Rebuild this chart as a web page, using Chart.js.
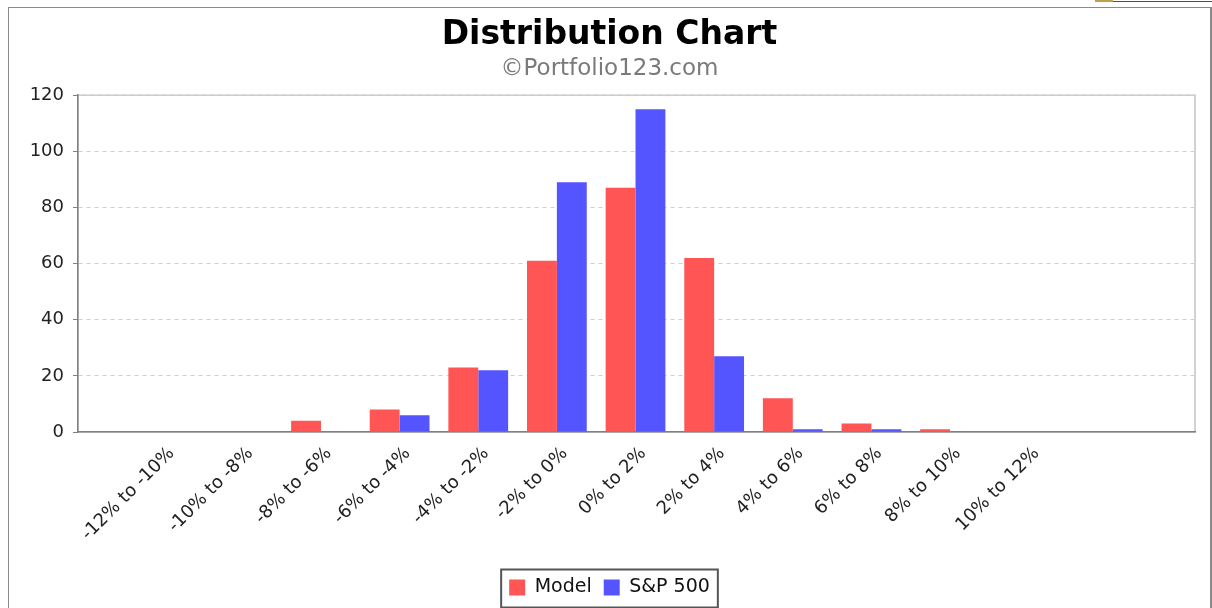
<!DOCTYPE html>
<html>
<head>
<meta charset="utf-8">
<title>Distribution Chart</title>
<script src="https://cdn.jsdelivr.net/npm/chart.js@4.4.0/dist/chart.umd.min.js"></script>
<style>
    html, body { margin: 0; padding: 0; background: #fff; }
    #wrap { position: relative; width: 1212px; height: 608px; overflow: hidden; }
    #frame {
        position: absolute; left: 8px; top: 7px; width: 1204px; height: 640px;
        border-left: 1px solid #8a8a8a; border-top: 1px solid #8a8a8a; border-right: 2px solid #8a8a8a;
        box-sizing: border-box;
    }
    #tabYellow { position: absolute; left: 1095px; top: 0; width: 18px; height: 2px; background: #b9a24a; }
    #tabBlue { position: absolute; left: 1113px; top: 1px; width: 99px; height: 1px; background: #3a3af0; }
    #chart { position: absolute; left: 0; top: 0; }
</style>
</head>
<body>
<div id="wrap">
    <div id="frame"></div>
    <div id="tabYellow"></div>
    <div id="tabBlue"></div>
    <canvas id="chart" width="1212" height="608"></canvas>
</div>
<script>
// data
const categories = [
    '-12% to -10%', '-10% to -8%', '-8% to -6%', '-6% to -4%', '-4% to -2%', '-2% to 0%',
    '0% to 2%', '2% to 4%', '4% to 6%', '6% to 8%', '8% to 10%', '10% to 12%'
];
const modelValues = [0, 0, 4, 8, 23, 61, 87, 62, 12, 3, 1, 0];
const sp500Values = [0, 0, 0, 6, 22, 89, 115, 27, 1, 1, 0, 0];
const yTicks = [0, 20, 40, 60, 80, 100, 120];

const FONT = 'DejaVu Sans';
const LABEL_SHIFT = 0.1; // rotated labels sit a little right of the bar group

// light outline round the plot + box round the legend
const framePlugin = {
    id: 'frame',
    beforeDraw(chart) {
        const { ctx, chartArea: a } = chart;
        ctx.save();
        ctx.strokeStyle = '#c4c4c4';
        ctx.lineWidth = 1.5;
        ctx.strokeRect(a.left, a.top, a.right - a.left, a.bottom - a.top);
        ctx.restore();
    },
    afterDraw(chart) {
        const boxes = chart.legend && chart.legend.legendHitBoxes;
        if (!boxes || !boxes.length) return;
        const first = boxes[0];
        const last = boxes[boxes.length - 1];
        const left = first.left - 8;
        const right = last.left + last.width + 8;
        const midY = first.top + first.height / 2;
        const { ctx } = chart;
        ctx.save();
        ctx.strokeStyle = '#555';
        ctx.lineWidth = 2;
        ctx.strokeRect(left, midY - 18, right - left, 38);
        ctx.restore();
    }
};

const ctx = document.getElementById('chart').getContext('2d');
const distributionChart = new Chart(ctx, {
    type: 'bar',
    data: {
        datasets: [{
            label: 'Model',
            data: modelValues.map((v, i) => ({ x: i, y: v })),
            backgroundColor: '#FF5555',
            borderWidth: 0
        }, {
            label: 'S&P 500',
            data: sp500Values.map((v, i) => ({ x: i, y: v })),
            backgroundColor: '#5555FF',
            borderWidth: 0
        }]
    },
    options: {
        responsive: false,
        animation: false,
        devicePixelRatio: 1,
        categoryPercentage: 0.76,
        barPercentage: 1,
        layout: {
            padding: { left: 12, right: 5, top: 0, bottom: 1 }
        },
        plugins: {
            title: {
                display: true,
                text: 'Distribution Chart',
                color: '#000',
                font: { family: FONT, size: 33, weight: 'bold' },
                padding: { top: 16, bottom: 0 }
            },
            subtitle: {
                display: true,
                text: '©Portfolio123.com',
                color: '#7a7a7a',
                font: { family: FONT, size: 23 },
                padding: { top: 0, bottom: 12 }
            },
            legend: {
                position: 'bottom',
                labels: {
                    color: '#111',
                    font: { family: FONT, size: 19 },
                    boxWidth: 16,
                    boxHeight: 16,
                    padding: 12
                }
            },
            tooltip: { enabled: false }
        },
        scales: {
            x: {
                type: 'linear',
                min: -1.09,
                max: 13.115,
                offset: false,
                grid: { display: false },
                border: { display: true, color: '#808080', width: 1.5 },
                afterBuildTicks: axis => {
                    axis.ticks = categories.map((c, i) => ({ value: i + LABEL_SHIFT }));
                },
                afterFit: scale => {
                    scale.height = 608 - 432 - scale.chart.legend.height - 1;
                    scale.paddingLeft = 0;
                    scale.paddingRight = 17;
                },
                ticks: {
                    autoSkip: false,
                    minRotation: 45,
                    maxRotation: 45,
                    padding: 3,
                    color: '#222',
                    font: { family: FONT, size: 18 },
                    callback: value => categories[Math.round(value - LABEL_SHIFT)] ?? ''
                }
            },
            y: {
                min: 0,
                max: 120,
                afterBuildTicks: axis => {
                    axis.ticks = yTicks.map(v => ({ value: v }));
                },
                afterFit: scale => {
                    scale.width = 66;
                },
                grid: {
                    color: c => (c.tick && c.tick.value === 0) ? 'rgba(0,0,0,0)' : '#cfcfcf',
                    tickColor: '#808080',
                    tickLength: 5,
                    tickBorderDash: []
                },
                border: { display: true, color: '#808080', width: 1.5, dash: [4, 4] },
                ticks: {
                    padding: 9,
                    color: '#222',
                    font: { family: FONT, size: 18 }
                }
            }
        }
    },
    plugins: [framePlugin]
});
</script>
</body>
</html>
